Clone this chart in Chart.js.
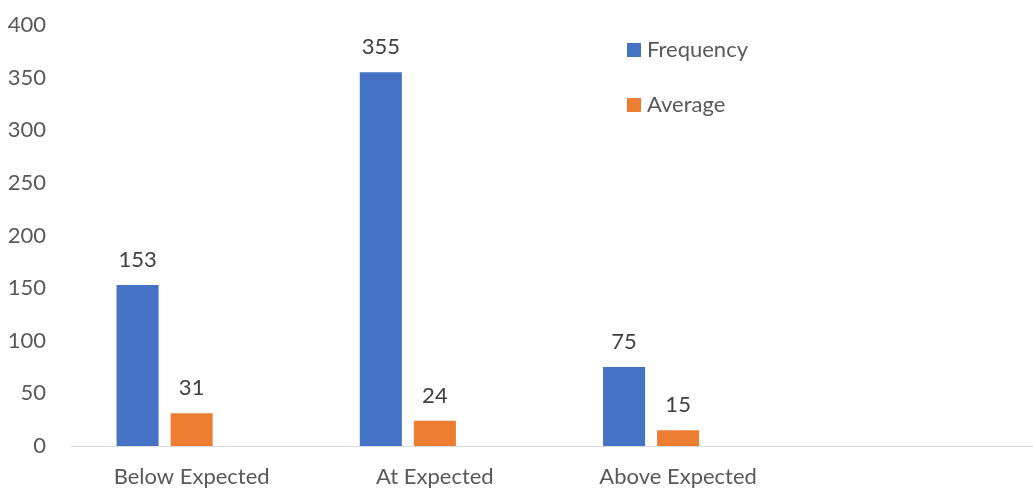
<!DOCTYPE html>
<html>
<head>
<meta charset="utf-8">
<script src="https://cdn.jsdelivr.net/npm/chart.js@4/dist/chart.umd.min.js"></script>
<style>
  html, body { margin: 0; padding: 0; background: #ffffff; overflow: hidden; }
  #wrap { position: relative; width: 1050px; height: 488px; }
</style>
</head>
<body>
<div id="wrap"><canvas id="chart"></canvas></div>
<script>
// Category labels (the last slot is an empty category)
const categories = ['Below Expected', 'At Expected', 'Above Expected', ''];
// Series values
const frequency = [153, 355, 75, null];
const average = [31, 24, 15, null];
// Reserved third series slot, no values
const spare = [null, null, null, null];
// Y axis range and step
const yMin = 0;
const yMax = 400;
const yStep = 50;

const FONT = 'Lato, "Open Sans", sans-serif';
const FONT_SIZE = 22;

// Draws the value above each bar
const valueLabels = {
  id: 'valueLabels',
  afterDatasetsDraw(chart) {
    const ctx = chart.ctx;
    ctx.save();
    ctx.font = FONT_SIZE + 'px ' + FONT;
    ctx.fillStyle = '#404040';
    ctx.textAlign = 'center';
    ctx.textBaseline = 'middle';
    chart.data.datasets.forEach((ds, i) => {
      if (!ds.showValues) return;
      const meta = chart.getDatasetMeta(i);
      meta.data.forEach((el, j) => {
        const v = ds.data[j];
        if (v === null || v === undefined) return;
        ctx.fillText(String(v), el.x, el.y - 25);
      });
    });
    ctx.restore();
  }
};

// Legend drawn inside the plot area, stacked vertically
const sideLegend = {
  id: 'sideLegend',
  afterDraw(chart) {
    const ctx = chart.ctx;
    ctx.save();
    ctx.font = FONT_SIZE + 'px ' + FONT;
    ctx.textBaseline = 'middle';
    ctx.textAlign = 'left';
    let y = 50;
    chart.data.datasets.forEach(ds => {
      if (!ds.inLegend) return;
      ctx.fillStyle = ds.backgroundColor;
      ctx.fillRect(627, y - 7, 14, 14);
      ctx.fillStyle = '#595959';
      ctx.fillText(ds.label, 647, y);
      y += 55;
    });
    ctx.restore();
  }
};

new Chart(document.getElementById('chart'), {
  type: 'bar',
  data: {
    labels: categories,
    datasets: [
      { label: 'Frequency', data: frequency, backgroundColor: '#4472C4', showValues: true, inLegend: true },
      { label: 'Average', data: average, backgroundColor: '#ED7D31', showValues: true, inLegend: true },
      { label: '', data: spare, backgroundColor: 'rgba(0,0,0,0)', showValues: false, inLegend: false }
    ]
  },
  options: {
    responsive: true,
    maintainAspectRatio: false,
    animation: false,
    layout: { padding: { top: 25, right: 7, left: 0, bottom: 0 } },
    datasets: {
      bar: { categoryPercentage: 0.6667, barPercentage: 0.778 }
    },
    plugins: {
      legend: { display: false },
      tooltip: { enabled: false }
    },
    scales: {
      x: {
        grid: { display: false, drawTicks: false },
        border: { display: true, color: '#d9d9d9', width: 1 },
        ticks: {
          color: '#595959',
          font: { family: FONT, size: FONT_SIZE },
          padding: 18,
          maxRotation: 0,
          autoSkip: false
        },
        afterFit(scale) {
          scale.height = 488 - 446;
          scale.paddingLeft = 0;
          scale.paddingRight = 0;
        }
      },
      y: {
        min: yMin,
        max: yMax,
        grid: { display: false, drawTicks: false },
        border: { display: false },
        ticks: {
          stepSize: yStep,
          color: '#595959',
          font: { family: FONT, size: FONT_SIZE },
          padding: 24
        },
        afterFit(scale) {
          scale.width = 70;
          scale.paddingTop = 0;
          scale.paddingBottom = 0;
        }
      }
    }
  },
  plugins: [valueLabels, sideLegend]
});
</script>
</body>
</html>
